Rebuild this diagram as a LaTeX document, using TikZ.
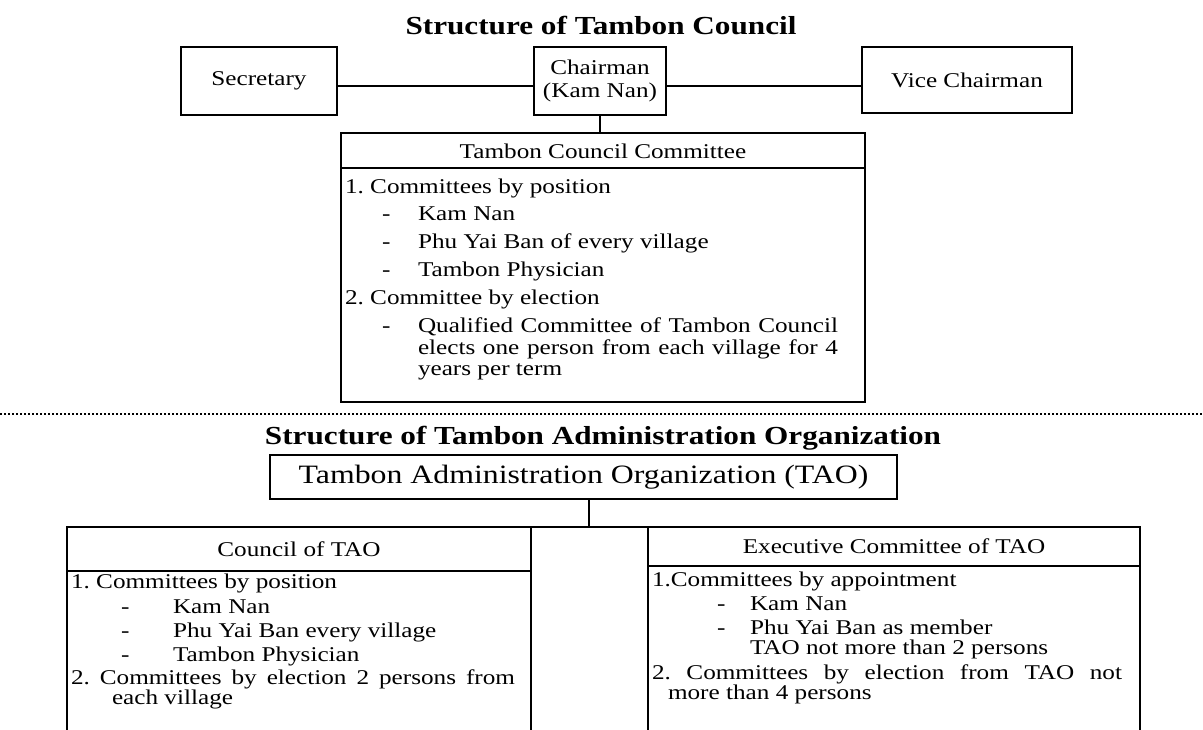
\documentclass[tikz,border=0pt]{standalone}
\usepackage{fontspec}
\setmainfont{Liberation Serif}[FakeStretch=1.2]
\begin{document}
\begin{tikzpicture}[x=1pt,y=-1pt,
  box/.style={draw, line width=1.2pt, inner sep=0pt, outer sep=0pt},
  conn/.style={line width=1.2pt},
  dotline/.style={line width=1.2pt, dash pattern=on 1.5pt off 2.5pt},
  body/.style={font=\fontsize{21}{23.5}\selectfont\frenchspacing, inner sep=0pt, outer sep=0pt},
  lbl/.style={body, anchor=base west},
  ttl/.style={font=\fontsize{26}{28}\selectfont\bfseries, inner sep=0pt, anchor=base},
]
\useasboundingbox (0,0) rectangle (1203,730);
\fill[white] (0,0) rectangle (1203,730);

% ---------- Tambon Council ----------
\node[ttl] (t1) at (601,35) {Structure of Tambon Council};

\node[box, body, minimum width=156pt, minimum height=68pt] (sec) at (259,81) {Secretary};
\node[box, body, align=center, minimum width=132pt, minimum height=68pt] (ch) at (600,81) {Chairman\\(Kam Nan)};
\node[box, body, minimum width=210pt, minimum height=66pt] (vice) at (967,80) {Vice Chairman};

\draw[conn] (sec.east |- 0,86) -- (ch.west |- 0,86);
\draw[conn] (ch.east |- 0,86) -- (vice.west |- 0,86);

\node[box, minimum width=524pt, minimum height=269pt] (tcc) at (603,267.5) {};
\draw[conn] (ch.south) -- (ch.south |- tcc.north);
\coordinate (tccL) at (341,168);
\coordinate (tccR) at (865,168);
\draw[conn] (tccL) -- (tccR);
\node[body] (tcch) at (603,151) {Tambon Council Committee};

\node[lbl] (c1) at (345,194) {1. Committees by position};
\node[lbl] (c2d) at (382,221) {-};
\node[lbl] (c2) at (418,221) {Kam Nan};
\node[lbl] (c3d) at (382,249) {-};
\node[lbl] (c3) at (418,249) {Phu Yai Ban of every village};
\node[lbl] (c4d) at (382,277) {-};
\node[lbl] (c4) at (418,277) {Tambon Physician};
\node[lbl] (c5) at (345,305) {2. Committee by election};
\node[lbl] (c6d) at (382,333) {-};
\node[lbl] (c6) at (418,333) {\makebox[420pt][s]{Qualified Committee of Tambon Council}};
\node[lbl] (c7) at (418,354) {\makebox[420pt][s]{elects one person from each village for 4}};
\node[lbl] (c8) at (418,375) {years per term};

% ---------- separator ----------
\coordinate (dl) at (0,414);
\coordinate (dr) at (1203,414);
\draw[dotline] (dl) -- (dr);

% ---------- TAO ----------
\node[ttl] (t2) at (603,444) {Structure of Tambon Administration Organization};

\node[box, font=\fontsize{26.5}{28}\selectfont, minimum width=627pt, minimum height=44pt] (tao) at (583.5,477) {Tambon Administration Organization (TAO)};

\coordinate (j) at (589,527);
\draw[conn] (tao.south -| j) -- (j);

\coordinate (lbTL) at (67,527);
\coordinate (lbTR) at (531,527);
\coordinate (lbBL) at (67,731);
\coordinate (lbBR) at (531,731);
\coordinate (rbTL) at (648,527);
\coordinate (rbTR) at (1140,527);
\coordinate (rbBL) at (648,731);
\coordinate (rbBR) at (1140,731);
\draw[conn] (lbBL) -- (lbTL) -- (rbTR) -- (rbBR);
\draw[conn] (lbTR) -- (lbBR);
\draw[conn] (rbTL) -- (rbBL);
\coordinate (lhL) at (67,571);
\coordinate (lhR) at (531,571);
\coordinate (rhL) at (648,566);
\coordinate (rhR) at (1140,566);
\draw[conn] (lhL) -- (lhR);
\draw[conn] (rhL) -- (rhR);

\node[body] (coh) at (299,549) {Council of TAO};
\node[body] (ech) at (894,546) {Executive Committee of TAO};

\node[lbl] (l1) at (71,588) {1. Committees by position};
\node[lbl] (l2d) at (121,613) {-};
\node[lbl] (l2) at (173,613) {Kam Nan};
\node[lbl] (l3d) at (121,637) {-};
\node[lbl] (l3) at (173,637) {Phu Yai Ban every village};
\node[lbl] (l4d) at (121,661) {-};
\node[lbl] (l4) at (173,661) {Tambon Physician};
\node[lbl] (l5) at (71,684) {\makebox[444pt][s]{2. Committees by election 2 persons from}};
\node[lbl] (l6) at (112,704) {each village};

\node[lbl] (r1) at (652,586) {1.Committees by appointment};
\node[lbl] (r2d) at (717,610) {-};
\node[lbl] (r2) at (750,610) {Kam Nan};
\node[lbl] (r3d) at (717,634) {-};
\node[lbl] (r3) at (750,634) {Phu Yai Ban as member};
\node[lbl] (r4) at (750,654) {TAO not more than 2 persons};
\node[lbl] (r5) at (652,679) {\makebox[470pt][s]{2. Committees by election from TAO not}};
\node[lbl] (r6) at (668,699) {more than 4 persons};
\end{tikzpicture}
\end{document}
